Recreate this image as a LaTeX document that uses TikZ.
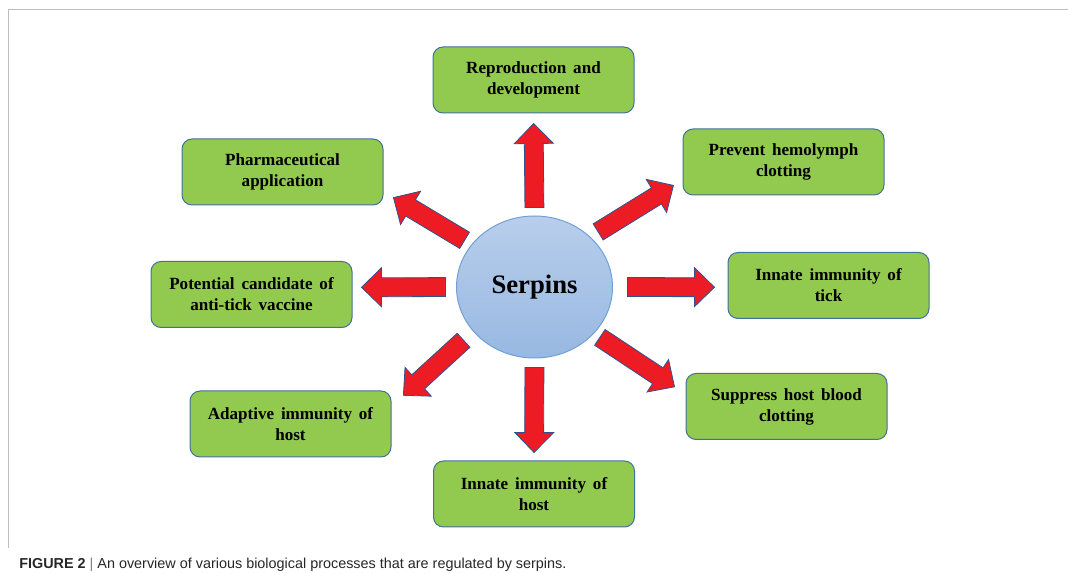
\documentclass[tikz,border=0pt]{standalone}
\usepackage{fontspec}
\setmainfont{Liberation Serif}
\newfontfamily\capfont{Liberation Sans}
\definecolor{boxgreen}{RGB}{146,201,79}
\definecolor{boxline}{RGB}{65,113,156}
\definecolor{arrred}{RGB}{237,28,36}
\definecolor{arrline}{RGB}{47,82,143}
\definecolor{serptop}{RGB}{184,206,235}
\definecolor{serpbot}{RGB}{152,184,226}
\definecolor{serpline}{RGB}{112,160,214}
\definecolor{framegray}{RGB}{190,190,190}
\usetikzlibrary{calc,shapes.geometric}
\tikzset{
  proc/.style={rectangle,rounded corners=7.5pt,draw=boxline,fill=boxgreen,
    line width=0.75pt,minimum width=150.75pt,minimum height=49.5pt,
    align=center,font=\fontsize{12.8}{15.8}\selectfont\bfseries,
    execute at begin node={\spaceskip=0.4em\relax}},
  hub/.style={ellipse,draw=serpline,top color=serptop,bottom color=serpbot,
    line width=0.75pt,inner sep=0pt,minimum width=117pt,minimum height=106.5pt,
    font=\fontsize{20}{24}\selectfont\bfseries},
  bigarr/.style={fill=arrred,draw=arrline,line width=0.6pt,line join=miter},
}
\newcommand{\shafthw}{7.1pt}
\newcommand{\headhw}{14.6pt}
\newcommand{\headlen}{15pt}
% block arrow: from, to, gap at tail, gap at tip
\newcommand{\bigarrow}[4]{%
  \coordinate (ba-t) at ($(#1)!#3!(#2)$);
  \coordinate (ba-p) at ($(#2)!#4!(#1)$);
  \coordinate (ba-b) at ($(ba-p)!\headlen!(ba-t)$);
  \filldraw[bigarr] ($(ba-t)!\shafthw!90:(ba-p)$)
    -- ($(ba-b)!\shafthw!-90:(ba-t)$) -- ($(ba-b)!\headhw!-90:(ba-t)$)
    -- (ba-p)
    -- ($(ba-b)!\headhw!90:(ba-t)$) -- ($(ba-b)!\shafthw!90:(ba-t)$)
    -- ($(ba-t)!\shafthw!-90:(ba-p)$) -- cycle;
}

\begin{document}
\begin{tikzpicture}[x=0.75pt,y=-0.75pt]
  \useasboundingbox (0,0) rectangle (1068,573);
  \draw[framegray,line width=0.75pt] (8,548) -- (8,10) -- (1068,10);

  \node[hub] (serp) at (534.5,287) {Serpins};

  \node[proc] (repro) at (533.5,80) {Reproduction and\\development};
  \node[proc] (pharma) at (282.5,172) {Pharmaceutical\\application};
  \node[proc] (prevent) at (783.5,162) {Prevent hemolymph\\clotting};
  \node[proc] (potential) at (251.5,294.5) {Potential candidate of\\anti-tick vaccine};
  \node[proc] (inntick) at (828.5,285.5) {Innate immunity of\\tick};
  \node[proc] (adaptive) at (290.5,424) {Adaptive immunity of\\host};
  \node[proc] (suppress) at (786.5,406.5) {Suppress host blood\\clotting};
  \node[proc] (innhost) at (534,494) {Innate immunity of\\host};

  \bigarrow{serp.north}{repro.south}{6pt}{7.5pt}
  \bigarrow{serp.42}{prevent.190}{6.9pt}{8pt}
  \bigarrow{serp.east}{inntick.181}{10.9pt}{9.75pt}
  \bigarrow{serp.322}{suppress.173}{5.2pt}{9.9pt}
  \bigarrow{serp.south}{innhost.north}{6.75pt}{6pt}
  \bigarrow{serp.216}{adaptive.10}{9.7pt}{12.1pt}
  \bigarrow{serp.west}{potential.4}{7.9pt}{6.75pt}
  \bigarrow{serp.146}{pharma.349}{6pt}{8.7pt}

  \node[anchor=base west,inner sep=0pt,font=\capfont\fontsize{10.8}{12}\selectfont,
    text=black!85] (caption) at (19,569)
    {\textbf{FIGURE 2} {\color{black!50}|} An overview of various biological processes that are regulated by serpins.};
\end{tikzpicture}
\end{document}
